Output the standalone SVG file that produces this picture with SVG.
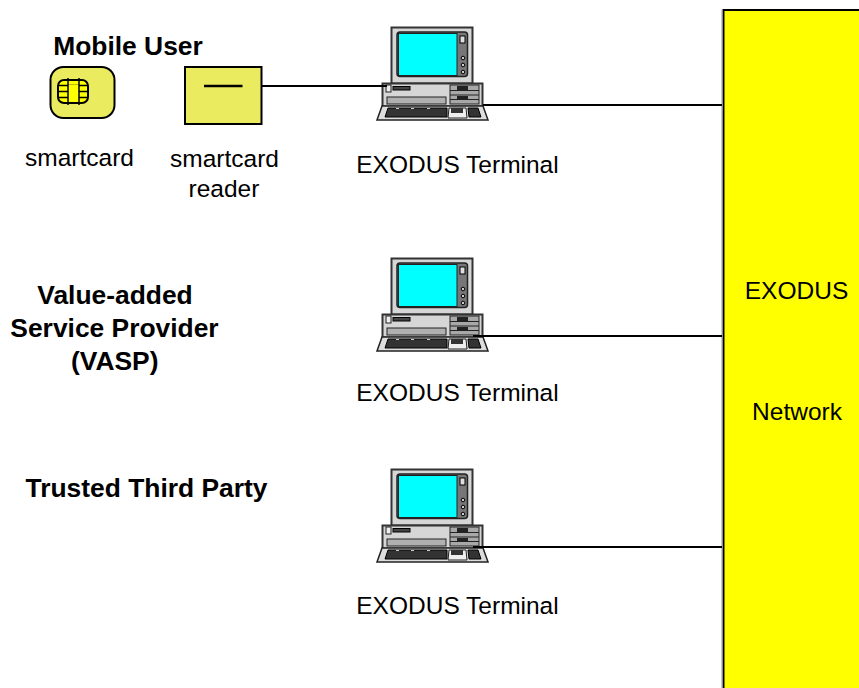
<svg xmlns="http://www.w3.org/2000/svg" width="859" height="688" viewBox="0 0 859 688">
<style>
text{font-family:"Liberation Sans",Arial,sans-serif;font-size:24.5px;fill:#000;text-anchor:middle}
.b{font-weight:bold;font-size:26.4px}
.w{fill:none;stroke:#000;stroke-width:2}
.k{stroke:#222;stroke-width:1.2;fill:none}
.g{fill:#d6d6d6;stroke:#333;stroke-width:2}
.d{fill:#333;stroke:#000;stroke-width:1}
</style>
<defs>
<g id="pc">
<rect x="391.500" y="27.500" width="81" height="56" class="g"/>
<rect x="397" y="32" width="70.500" height="44.500" rx="3" fill="#777" stroke="#222" stroke-width="1.500"/>
<rect x="398.500" y="33.500" width="58.500" height="42" fill="#0ff" stroke="#222" stroke-width="1"/>
<rect x="460" y="36" width="5" height="7" fill="#ddd" stroke="#000"/>
<circle cx="463" cy="58" r="1.800" fill="#ccc" stroke="#000"/>
<circle cx="463" cy="65" r="1.800" fill="#ccc" stroke="#000"/>
<circle cx="463" cy="72" r="1.800" fill="#ccc" stroke="#000"/>
<rect x="382.500" y="83.500" width="100" height="23" class="g"/>
<rect x="386" y="85" width="5" height="7" fill="#eee" stroke="#222"/>
<rect x="393" y="86.500" width="17" height="3.500" fill="#444" stroke="#000"/>
<rect x="387" y="97" width="59" height="7" fill="#b0b0b0" stroke="#222"/>
<rect x="450" y="85" width="29" height="19" fill="#a8a8a8" stroke="#222"/>
<path d="M450 90.500h29M450 95h29M450 99.500h29" class="k"/>
<rect x="457" y="86" width="11" height="4" fill="#222"/>
<rect x="457" y="96" width="11" height="4" fill="#222"/>
<path d="M382 106H483L488 120H377Z" fill="#ddd" stroke="#222" stroke-width="1.500"/>
<path d="M388 108H447V117H385Z" class="d"/>
<path d="M468 108H478L481 117H469Z" class="d"/>
<path d="M449 108H466L467 118H448Z" fill="#eee" stroke="#222"/>
<rect x="451" y="108" width="12" height="5" fill="#333"/>
<path d="M396 108.500h3M411 108.500h3M427 108.500h3" stroke="#ccc" stroke-width="1" fill="none"/>
</g>
</defs>
<g id="exodus-network">
<rect x="723.500" y="10" width="140" height="682" fill="#ff0" stroke="#000" stroke-width="2"/>
<path d="M722 10V688" stroke="#999" stroke-width="1" fill="none"/>
<text x="796.500" y="299">EXODUS</text>
<text x="797" y="420">Network</text>
</g>
<g id="mobile-user"><text class="b" x="128" y="55">Mobile User</text></g>
<g id="smartcard">
<rect x="50.500" y="67" width="64" height="51" rx="13" fill="#ebeb5f" stroke="#000" stroke-width="2"/>
<rect x="58" y="80" width="30" height="23" rx="6" fill="#ff0" stroke="#000" stroke-width="2"/>
<path d="M58 85.500H88M58 91.500H88M58 97.500H88" fill="none" stroke="#000" stroke-width="1.500"/>
<rect x="68" y="85" width="11" height="16" fill="#ff0"/>
<path d="M68 78V105M79 78V105" fill="none" stroke="#000" stroke-width="1.500"/>
<text x="79.500" y="166">smartcard</text>
</g>
<g id="smartcard-reader">
<rect x="185" y="67" width="76.500" height="57" fill="#ebeb5f" stroke="#000" stroke-width="2"/>
<path d="M204 86H242.500" fill="none" stroke="#000" stroke-width="2.500"/>
<text x="224.500" y="167">smartcard</text>
<text x="224" y="197">reader</text>
</g>
<g id="terminal-1"><use href="#pc"/><text x="457.500" y="173">EXODUS Terminal</text></g>
<g id="vasp-label">
<text class="b" x="115" y="304">Value-added</text>
<text class="b" x="114.500" y="337">Service Provider</text>
<text class="b" x="114.700" y="370">(VASP)</text>
</g>
<g id="terminal-2"><use href="#pc" y="231"/><text x="457.500" y="401">EXODUS Terminal</text></g>
<g id="ttp-label"><text class="b" x="146.500" y="497">Trusted Third Party</text></g>
<g id="terminal-3"><use href="#pc" y="442"/><text x="457.500" y="614">EXODUS Terminal</text></g>
<g id="connectors">
<path d="M262 86H387M483 105H722M473 336H722M473 547H722" class="w"/>
</g>
</svg>
